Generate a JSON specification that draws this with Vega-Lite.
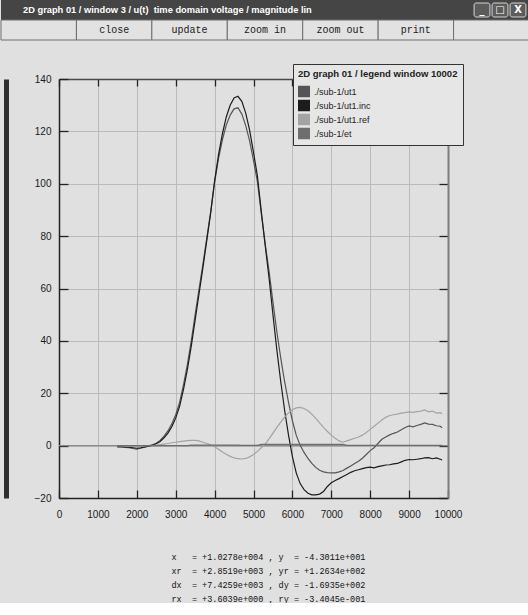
{
  "$schema": "https://vega.github.io/schema/vega-lite/v6.json",
  "background": "#e0e0e0",
  "padding": 0,
  "config": {"view": {"stroke": null}},
  "columns": 1,
  "align": "none",
  "bounds": "full",
  "spacing": 22,
  "resolve": {"scale": {"color": "independent"}, "legend": {"color": "independent"}},
  "concat": [
    {
      "width": 470,
      "height": 40,
      "data": {"values": [
        {"bar": "title", "key": "title", "label": "2D graph 01 / window 3 / u(t)\u00a0 time domain voltage / magnitude lin"},
        {"bar": "buttons", "key": "pad_l", "label": ""},
        {"bar": "buttons", "key": "close", "label": "close"},
        {"bar": "buttons", "key": "update", "label": "update"},
        {"bar": "buttons", "key": "zoom in", "label": "zoom in"},
        {"bar": "buttons", "key": "zoom out", "label": "zoom out"},
        {"bar": "buttons", "key": "print", "label": "print"},
        {"bar": "buttons", "key": "pad_r", "label": ""},
        {"bar": "control", "key": "min", "label": "_"},
        {"bar": "control", "key": "max", "label": "□"},
        {"bar": "control", "key": "shut", "label": "X"}
      ]},
      "layer": [
        {
          "transform": [{"filter": "datum.bar === 'title'"}],
          "mark": {"type": "rect", "fill": "#454545"},
          "encoding": {
            "x": {"field": "bar", "type": "nominal", "scale": {"type": "band", "range": [-58, 470], "paddingInner": 0, "paddingOuter": 0}, "axis": null},
            "y": {"field": "bar", "type": "nominal", "scale": {"type": "band", "domain": ["title", "buttons"], "range": [0, 40], "paddingInner": 0, "paddingOuter": 0}, "axis": null}
          }
        },
        {
          "transform": [{"filter": "datum.bar === 'buttons'"}],
          "mark": {"type": "rect", "fill": "#e2e2e2", "stroke": "#6e6e6e", "strokeWidth": 1},
          "encoding": {
            "x": {"field": "key", "type": "nominal", "sort": null, "scale": {"type": "band", "domain": ["pad_l", "close", "update", "zoom in", "zoom out", "print", "pad_r"], "range": [-58, 470], "paddingInner": 0, "paddingOuter": 0}, "axis": null},
            "y": {"field": "bar", "type": "nominal", "scale": {"type": "band", "domain": ["title", "buttons"], "range": [0, 40], "paddingInner": 0, "paddingOuter": 0}, "axis": null}
          }
        },
        {
          "transform": [{"filter": "datum.bar === 'buttons'"}],
          "mark": {"type": "text", "font": "Liberation Mono, DejaVu Sans Mono, monospace", "fontSize": 10, "color": "#1a1a1a"},
          "encoding": {
            "x": {"field": "key", "type": "nominal", "sort": null, "scale": {"type": "band", "domain": ["pad_l", "close", "update", "zoom in", "zoom out", "print", "pad_r"], "range": [-58, 470], "paddingInner": 0, "paddingOuter": 0}, "axis": null},
            "y": {"field": "bar", "type": "nominal", "scale": {"type": "band", "domain": ["title", "buttons"], "range": [0, 40], "paddingInner": 0, "paddingOuter": 0}, "axis": null},
            "text": {"field": "label"}
          }
        },
        {
          "transform": [{"filter": "datum.bar === 'title'"}],
          "mark": {"type": "text", "align": "left", "dx": 22, "font": "Liberation Sans, Arial, sans-serif", "fontSize": 9.3, "fontWeight": "bold", "color": "#ffffff"},
          "encoding": {
            "x": {"field": "bar", "type": "nominal", "scale": {"type": "band", "range": [-58, 470], "paddingInner": 0, "paddingOuter": 0, "align": 0}, "axis": null, "bandPosition": 0},
            "y": {"field": "bar", "type": "nominal", "scale": {"type": "band", "domain": ["title", "buttons"], "range": [0, 40], "paddingInner": 0, "paddingOuter": 0}, "axis": null},
            "text": {"field": "label"}
          }
        },
        {
          "transform": [{"filter": "datum.bar === 'control'"}],
          "mark": {"type": "rect", "fill": "#5c5c5c", "stroke": "#d5d5d5", "strokeWidth": 1, "height": 14, "cornerRadius": 2},
          "encoding": {
            "x": {"field": "key", "type": "nominal", "sort": null, "scale": {"type": "band", "domain": ["min", "max", "shut"], "range": [414, 468], "paddingInner": 0.12, "paddingOuter": 0.06}, "axis": null},
            "y": {"datum": "title", "type": "nominal", "scale": {"type": "band", "domain": ["title", "buttons"], "range": [0, 40], "paddingInner": 0, "paddingOuter": 0}, "axis": null}
          }
        },
        {
          "transform": [{"filter": "datum.bar === 'control'"}],
          "mark": {"type": "text", "font": "DejaVu Sans, sans-serif", "fontSize": 10, "fontWeight": "bold", "color": "#ffffff"},
          "encoding": {
            "x": {"field": "key", "type": "nominal", "sort": null, "scale": {"type": "band", "domain": ["min", "max", "shut"], "range": [414, 468], "paddingInner": 0.12, "paddingOuter": 0.06}, "axis": null},
            "y": {"datum": "title", "type": "nominal", "scale": {"type": "band", "domain": ["title", "buttons"], "range": [0, 40], "paddingInner": 0, "paddingOuter": 0}, "axis": null},
            "text": {"field": "label"}
          }
        }
      ],
      "resolve": {"scale": {"x": "independent", "y": "independent"}}
    },
    {
      "width": 389,
      "height": 419,
      "data": {"values": [
        {"t":1500,"ut1":-0.5,"ut1_inc":-0.4,"ut1_ref":-0.1,"et":0},
        {"t":1600,"ut1":-0.5,"ut1_inc":-0.4,"ut1_ref":-0.1,"et":0},
        {"t":1700,"ut1":-0.7,"ut1_inc":-0.5,"ut1_ref":-0.2,"et":0},
        {"t":1800,"ut1":-0.8,"ut1_inc":-0.6,"ut1_ref":-0.2,"et":0},
        {"t":1900,"ut1":-1.1,"ut1_inc":-0.8,"ut1_ref":-0.3,"et":0},
        {"t":2000,"ut1":-1.3,"ut1_inc":-1.0,"ut1_ref":-0.3,"et":0},
        {"t":2100,"ut1":-1.0,"ut1_inc":-0.8,"ut1_ref":-0.2,"et":0},
        {"t":2200,"ut1":-0.6,"ut1_inc":-0.5,"ut1_ref":-0.1,"et":0},
        {"t":2300,"ut1":-0.2,"ut1_inc":-0.2,"ut1_ref":0.0,"et":0},
        {"t":2400,"ut1":0.3,"ut1_inc":0.2,"ut1_ref":0.1,"et":0},
        {"t":2500,"ut1":0.9,"ut1_inc":0.7,"ut1_ref":0.2,"et":0},
        {"t":2600,"ut1":2.0,"ut1_inc":1.6,"ut1_ref":0.4,"et":0},
        {"t":2700,"ut1":3.6,"ut1_inc":3.0,"ut1_ref":0.6,"et":0},
        {"t":2800,"ut1":5.6,"ut1_inc":4.8,"ut1_ref":0.8,"et":0},
        {"t":2900,"ut1":8.3,"ut1_inc":7.2,"ut1_ref":1.1,"et":0},
        {"t":3000,"ut1":11.8,"ut1_inc":10.5,"ut1_ref":1.3,"et":0},
        {"t":3100,"ut1":16.5,"ut1_inc":15.0,"ut1_ref":1.5,"et":0},
        {"t":3200,"ut1":23.2,"ut1_inc":21.5,"ut1_ref":1.7,"et":0},
        {"t":3300,"ut1":30.9,"ut1_inc":29.0,"ut1_ref":1.9,"et":0},
        {"t":3400,"ut1":40.0,"ut1_inc":38.0,"ut1_ref":2.0,"et":0.2},
        {"t":3500,"ut1":50.0,"ut1_inc":48.0,"ut1_ref":2.0,"et":0.2},
        {"t":3600,"ut1":59.8,"ut1_inc":58.0,"ut1_ref":1.8,"et":0.2},
        {"t":3700,"ut1":69.3,"ut1_inc":68.0,"ut1_ref":1.3,"et":0.2},
        {"t":3800,"ut1":79.3,"ut1_inc":78.5,"ut1_ref":0.8,"et":0.2},
        {"t":3900,"ut1":89.3,"ut1_inc":89.0,"ut1_ref":0.3,"et":0.2},
        {"t":4000,"ut1":100.6,"ut1_inc":101.0,"ut1_ref":-0.4,"et":0.2},
        {"t":4100,"ut1":109.6,"ut1_inc":111.0,"ut1_ref":-1.4,"et":0.2},
        {"t":4200,"ut1":116.8,"ut1_inc":119.0,"ut1_ref":-2.4,"et":0.2},
        {"t":4300,"ut1":122.4,"ut1_inc":125.5,"ut1_ref":-3.3,"et":0.2},
        {"t":4400,"ut1":126.2,"ut1_inc":130.0,"ut1_ref":-4.1,"et":0.2},
        {"t":4500,"ut1":128.6,"ut1_inc":132.8,"ut1_ref":-4.7,"et":0.2},
        {"t":4600,"ut1":129.0,"ut1_inc":133.4,"ut1_ref":-5.0,"et":0.2},
        {"t":4700,"ut1":126.6,"ut1_inc":131.5,"ut1_ref":-5.1,"et":0.1},
        {"t":4800,"ut1":122.2,"ut1_inc":127.0,"ut1_ref":-4.9,"et":0.1},
        {"t":4900,"ut1":116.4,"ut1_inc":120.5,"ut1_ref":-4.3,"et":0.1},
        {"t":5000,"ut1":108.8,"ut1_inc":112.0,"ut1_ref":-3.4,"et":0.1},
        {"t":5100,"ut1":100.8,"ut1_inc":103.0,"ut1_ref":-2.2,"et":0.1},
        {"t":5200,"ut1":88.7,"ut1_inc":89.5,"ut1_ref":-0.8,"et":0.5},
        {"t":5300,"ut1":77.1,"ut1_inc":76.5,"ut1_ref":0.6,"et":0.5},
        {"t":5400,"ut1":66.6,"ut1_inc":64.0,"ut1_ref":2.6,"et":0.5},
        {"t":5500,"ut1":54.8,"ut1_inc":50.0,"ut1_ref":4.8,"et":0.5},
        {"t":5600,"ut1":43.5,"ut1_inc":36.5,"ut1_ref":7.0,"et":0.5},
        {"t":5700,"ut1":33.5,"ut1_inc":24.5,"ut1_ref":9.0,"et":0.5},
        {"t":5800,"ut1":24.4,"ut1_inc":13.5,"ut1_ref":10.9,"et":0.5},
        {"t":5900,"ut1":16.5,"ut1_inc":4.0,"ut1_ref":12.5,"et":0.5},
        {"t":6000,"ut1":9.5,"ut1_inc":-4.2,"ut1_ref":13.7,"et":0.5},
        {"t":6100,"ut1":3.9,"ut1_inc":-10.5,"ut1_ref":14.4,"et":0.5},
        {"t":6200,"ut1":0.1,"ut1_inc":-14.5,"ut1_ref":14.6,"et":0.5},
        {"t":6300,"ut1":-2.6,"ut1_inc":-16.8,"ut1_ref":14.2,"et":0.5},
        {"t":6400,"ut1":-4.9,"ut1_inc":-18.2,"ut1_ref":13.3,"et":0.5},
        {"t":6500,"ut1":-6.8,"ut1_inc":-18.8,"ut1_ref":12.0,"et":0.5},
        {"t":6600,"ut1":-8.3,"ut1_inc":-18.8,"ut1_ref":10.4,"et":0.5},
        {"t":6700,"ut1":-9.4,"ut1_inc":-18.5,"ut1_ref":8.7,"et":0.5},
        {"t":6800,"ut1":-10.0,"ut1_inc":-17.5,"ut1_ref":7.0,"et":0.5},
        {"t":6900,"ut1":-10.3,"ut1_inc":-15.6,"ut1_ref":5.4,"et":0.5},
        {"t":7000,"ut1":-10.4,"ut1_inc":-14.2,"ut1_ref":4.0,"et":0.5},
        {"t":7100,"ut1":-10.4,"ut1_inc":-13.3,"ut1_ref":2.8,"et":0.5},
        {"t":7200,"ut1":-10.0,"ut1_inc":-12.6,"ut1_ref":1.8,"et":0.5},
        {"t":7300,"ut1":-9.5,"ut1_inc":-11.8,"ut1_ref":1.3,"et":0.5},
        {"t":7400,"ut1":-8.6,"ut1_inc":-11.0,"ut1_ref":1.8,"et":0.1},
        {"t":7500,"ut1":-7.8,"ut1_inc":-10.2,"ut1_ref":2.3,"et":0.1},
        {"t":7600,"ut1":-6.8,"ut1_inc":-9.6,"ut1_ref":2.8,"et":0.1},
        {"t":7700,"ut1":-6.0,"ut1_inc":-9.2,"ut1_ref":3.3,"et":0.1},
        {"t":7800,"ut1":-4.8,"ut1_inc":-8.8,"ut1_ref":4.0,"et":0.1},
        {"t":7900,"ut1":-3.4,"ut1_inc":-8.4,"ut1_ref":5.0,"et":0.1},
        {"t":8000,"ut1":-1.9,"ut1_inc":-8.2,"ut1_ref":6.2,"et":0.1},
        {"t":8100,"ut1":-0.8,"ut1_inc":-8.5,"ut1_ref":7.4,"et":0.1},
        {"t":8200,"ut1":0.8,"ut1_inc":-8.0,"ut1_ref":8.6,"et":0.1},
        {"t":8300,"ut1":2.4,"ut1_inc":-7.7,"ut1_ref":9.8,"et":0.1},
        {"t":8400,"ut1":3.3,"ut1_inc":-7.4,"ut1_ref":10.8,"et":0.1},
        {"t":8500,"ut1":4.1,"ut1_inc":-7.3,"ut1_ref":11.5,"et":0.1},
        {"t":8600,"ut1":4.7,"ut1_inc":-7.0,"ut1_ref":11.8,"et":0.1},
        {"t":8700,"ut1":5.2,"ut1_inc":-6.8,"ut1_ref":12.0,"et":0.1},
        {"t":8800,"ut1":6.1,"ut1_inc":-6.2,"ut1_ref":12.4,"et":0.1},
        {"t":8900,"ut1":6.9,"ut1_inc":-5.6,"ut1_ref":12.6,"et":0.1},
        {"t":9000,"ut1":7.5,"ut1_inc":-5.3,"ut1_ref":12.9,"et":0.1},
        {"t":9100,"ut1":7.2,"ut1_inc":-5.4,"ut1_ref":12.7,"et":0.1},
        {"t":9200,"ut1":7.7,"ut1_inc":-5.2,"ut1_ref":13.0,"et":0.1},
        {"t":9300,"ut1":8.1,"ut1_inc":-5.0,"ut1_ref":13.2,"et":0.1},
        {"t":9400,"ut1":8.7,"ut1_inc":-4.7,"ut1_ref":13.6,"et":0.1},
        {"t":9500,"ut1":8.2,"ut1_inc":-4.6,"ut1_ref":12.9,"et":0.1},
        {"t":9600,"ut1":8.1,"ut1_inc":-5.0,"ut1_ref":13.2,"et":0.1},
        {"t":9700,"ut1":7.6,"ut1_inc":-4.7,"ut1_ref":12.4,"et":0.1},
        {"t":9800,"ut1":7.4,"ut1_inc":-5.2,"ut1_ref":12.6,"et":0.1},
        {"t":9850,"ut1":6.8,"ut1_inc":-5.5,"ut1_ref":12.2,"et":0.1}
      ]},
      "layer": [
        {
          "data": {"values": [{}]},
          "mark": {"type": "rule", "color": "#8a8a8a", "strokeWidth": 1.3},
          "encoding": {
            "x": {"datum": 0, "type": "quantitative", "scale": {"domain": [0, 10000], "nice": false, "zero": false},
              "axis": {"orient": "top", "values": [0,1000,2000,3000,4000,5000,6000,7000,8000,9000,10000], "labels": false, "grid": false, "tickSize": -7, "tickColor": "#222222", "tickWidth": 1.3, "domainColor": "#4a4a4a", "domainWidth": 1.5, "title": null}},
            "x2": {"datum": 10000},
            "y": {"datum": 0, "type": "quantitative", "scale": {"domain": [-20, 140], "nice": false, "zero": false},
              "axis": {"orient": "right", "values": [-20,0,20,40,60,80,100,120,140], "labels": false, "grid": false, "tickSize": -9, "tickColor": "#222222", "tickWidth": 1.3, "domainColor": "#7d7d7d", "domainWidth": 2, "title": null}}
          }
        },
        {
          "transform": [{"fold": ["ut1", "ut1_inc", "ut1_ref", "et"], "as": ["series", "value"]}],
          "mark": {"type": "line", "strokeWidth": 1.2},
          "encoding": {
            "x": {"field": "t", "type": "quantitative", "scale": {"domain": [0, 10000], "nice": false, "zero": false},
              "axis": {"orient": "bottom", "values": [0,1000,2000,3000,4000,5000,6000,7000,8000,9000,10000], "format": "d", "grid": true, "gridColor": "#bababa", "gridWidth": 1, "tickSize": -8, "tickColor": "#222222", "tickWidth": 1.3, "domainColor": "#222222", "domainWidth": 1.5, "labelPadding": 19, "labelFlush": false, "labelOverlap": false, "labelFont": "Liberation Sans, Arial, sans-serif", "labelFontSize": 10, "labelColor": "#1a1a1a",
                "title": ["x\u00a0\u00a0 = +1.0278e+004 , y\u00a0 = -4.3011e+001", "xr\u00a0 = +2.8519e+003 , yr = +1.2634e+002", "dx\u00a0 = +7.4259e+003 , dy = -1.6935e+002", "rx\u00a0 = +3.6039e+000 , ry = -3.4045e-001"],
                "titleX": 112, "titleY": 54, "titleAlign": "left", "titleAnchor": "start", "titleBaseline": "top", "titleFont": "Liberation Mono, DejaVu Sans Mono, monospace", "titleFontSize": 8.5, "titleFontWeight": "normal", "titleColor": "#111111", "titleLineHeight": 14}},
            "y": {"field": "value", "type": "quantitative", "scale": {"domain": [-20, 140], "nice": false, "zero": false},
              "axis": {"orient": "left", "values": [-20,0,20,40,60,80,100,120,140], "format": "d", "grid": true, "gridColor": "#bababa", "gridWidth": 1, "tickSize": -9, "tickColor": "#222222", "tickWidth": 1.3, "domainColor": "#222222", "domainWidth": 1.5, "labelPadding": 17, "labelFont": "Liberation Sans, Arial, sans-serif", "labelFontSize": 10, "labelColor": "#1a1a1a",
                "title": " ", "titleX": -58, "titleY": 0, "titleAngle": 0, "titleAlign": "left", "titleBaseline": "top", "titleFontSize": 2}},
            "color": {"field": "series", "type": "nominal",
              "scale": {"domain": ["ut1", "ut1_inc", "ut1_ref", "et"], "range": ["#555555", "#1c1c1c", "#a3a3a3", "#6e6e6e"]},
              "legend": {"orient": "top-right", "offset": -15, "title": "2D graph 01 / legend window 10002", "titleFont": "Liberation Sans, Arial, sans-serif", "titleFontSize": 9.5, "titleFontWeight": "bold", "titleColor": "#222222", "titlePadding": 7, "fillColor": "#e6e6e6", "strokeColor": "#333333", "padding": 5, "symbolType": "square", "symbolSize": 25, "symbolStrokeWidth": 7, "clipHeight": 12, "labelFont": "Liberation Sans, Arial, sans-serif", "labelFontSize": 9, "labelColor": "#222222", "rowPadding": 2, "labelExpr": "'./sub-1/' + replace(datum.label, '_', '.')"}}
          }
        },
        {
          "data": {"values": [{}]},
          "mark": {"type": "point", "opacity": 0},
          "encoding": {
            "y": {"datum": 0, "type": "quantitative", "scale": {"domain": [-20, 140], "nice": false, "zero": false},
              "axis": {"orient": "left", "offset": 53, "labels": false, "ticks": false, "grid": false, "domain": true, "domainColor": "#2e2e2e", "domainWidth": 5, "title": null}}
          }
        }
      ],
      "resolve": {"axis": {"x": "independent", "y": "independent"}}
    }
  ]
}
